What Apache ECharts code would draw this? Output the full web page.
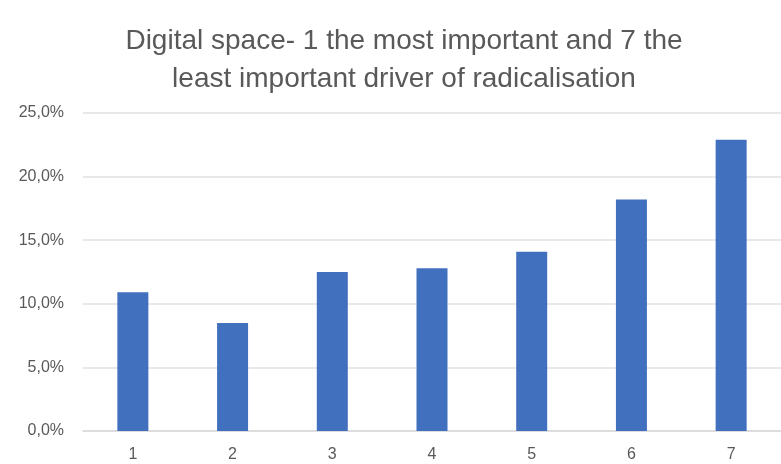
<!DOCTYPE html>
<html><head><meta charset="utf-8">
<script src="https://cdn.jsdelivr.net/npm/echarts@6/dist/echarts.min.js"></script>
<style>html,body{margin:0;padding:0;background:#fff}#c{width:781px;height:464px}</style>
</head><body><div id="c"></div>
<script>
const categories = ['1','2','3','4','5','6','7'];
const values = [10.9, 8.5, 12.5, 12.8, 14.1, 18.2, 22.9];
const titleText = 'Digital space- 1 the most important and 7 the\nleast important driver of radicalisation';

const chart = echarts.init(document.getElementById('c'));
chart.setOption({
  animation: false,
  title: {
    text: titleText,
    left: 399, top: 17, textAlign: 'center',
    textStyle: {fontFamily: 'Liberation Sans', fontWeight: 'normal', fontSize: 28, color: '#595959', lineHeight: 38}
  },
  grid: {left: 83, top: 113, width: 709, height: 318, containLabel: false},
  xAxis: {
    type: 'category', data: categories,
    axisLine: {lineStyle: {color: '#d9d9d9', width: 1.5}},
    axisTick: {show: false},
    axisLabel: {color: '#595959', fontSize: 16, fontFamily: 'Liberation Sans', margin: 16}
  },
  yAxis: {
    type: 'value', min: 0, max: 25, interval: 5,
    axisLine: {show: false}, axisTick: {show: false},
    splitLine: {lineStyle: {color: '#e0e0e0', width: 1.5}},
    axisLabel: {color: '#595959', fontSize: 16, fontFamily: 'Liberation Sans', margin: 19,
      formatter: v => v.toFixed(1).replace('.', ',') + '%'}
  },
  series: [{
    type: 'bar', data: values, barWidth: 31,
    itemStyle: {color: '#4170be'}
  }]
});
</script></body></html>
